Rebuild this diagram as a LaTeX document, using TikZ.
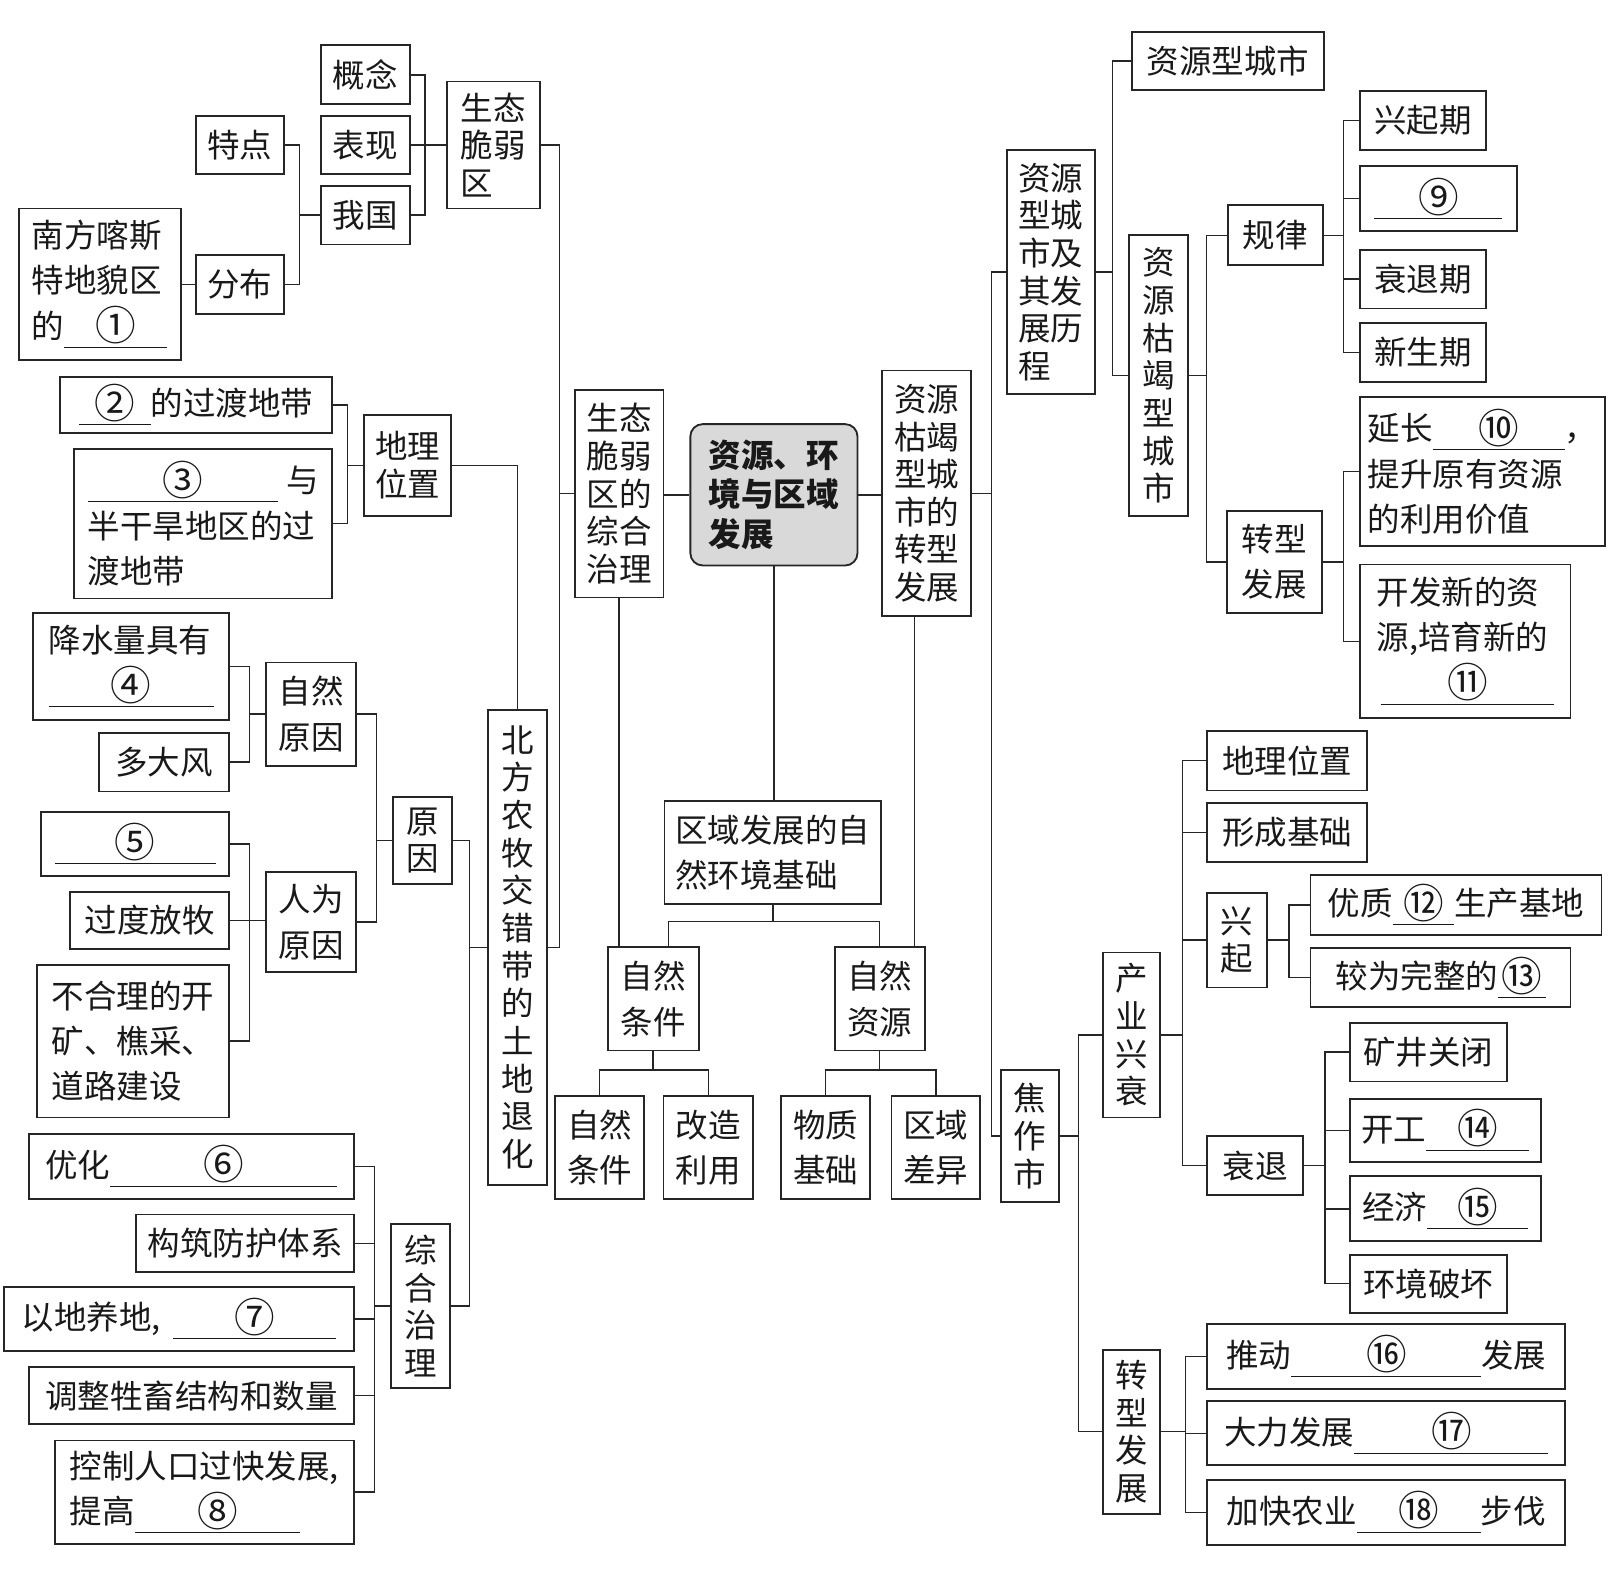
\documentclass[tikz,border=0pt]{standalone}
\usepackage{graphicx}
\usepackage{fontspec}
\setmainfont{Noto Sans CJK SC}
\newcommand\cn[1]{\raisebox{-0.08em}{\scalebox{1.25}{#1}}}
\newcommand\blk[2]{\underline{\makebox[#1]{\cn{#2}}}}
\newcommand\fsA{\fontsize{15.75pt}{22pt}\selectfont}
\newcommand\fsB{\fontsize{15.75pt}{18.25pt}\selectfont}
\newcommand\fsC{\fontsize{15.75pt}{19.25pt}\selectfont\bfseries}
\newcommand\bxn[7][]{\node[box,minimum width={(#5-#3)*0.5pt},minimum height={(#6-#4)*0.5pt},#1] (#2) at ({(#3+#5)/2},{(#4+#6)/2}) {#7};}
\tikzset{
  box/.style={draw=black!85,line width=0.9pt,inner sep=0pt,align=center,font=\fsA,text=black!90},
  vt/.style={font=\fsB},
  lf/.style={align=left},
  rootbox/.style={rounded corners=6pt,fill=black!15,font=\fsC,align=left},
  ln/.style={draw=black!85,line width=0.7pt}
}
\begin{document}
\begin{tikzpicture}[x=0.5pt,y=-0.5pt]
\fill[white] (0,0) rectangle (1568,1544);
\useasboundingbox (0,0) rectangle (1568,1544);
% ---------- left top
\bxn{gn}{311}{44}{397}{101}{概念}
\bxn{bx}{311}{112}{397}{169}{表现}
\bxn{wg}{311}{180}{397}{237}{我国}
\bxn[vt,lf]{st}{433}{79}{523}{202}{生态\\脆弱\\区}
\bxn{td}{190}{112}{275}{169}{特点}
\bxn{fb}{190}{247}{275}{304}{分布}
\bxn[lf]{nf}{18}{202}{175}{349}{南方喀斯\\特地貌区\\的\blk{50pt}{①}}
\bxn{t2}{58}{365}{322}{420}{\blk{35pt}{②}的过渡地带}
\bxn[lf]{t3}{72}{435}{322}{580}{\blk{92pt}{③}\hspace{4pt}与\\半干旱地区的过\\渡地带}
\bxn[vt]{dl}{353}{402}{437}{500}{地理\\位置}
\bxn[lf]{js}{32}{594}{222}{698}{降水量具有\\\blk{80pt}{④}}
\bxn{df}{96}{710}{222}{767}{多大风}
\bxn{zr}{258}{642}{345}{742}{自然\\原因}
\bxn{t5}{40}{787}{222}{849}{\blk{78pt}{⑤}}
\bxn{gd}{68}{864}{222}{920}{过度放牧}
\bxn[lf]{bh}{36}{935}{222}{1083}{不合理的开\\矿、樵采、\\道路建设}
\bxn{rw}{258}{845}{345}{942}{人为\\原因}
\bxn[vt]{yy}{381}{772}{438}{857}{原\\因}
\bxn[vt]{bf}{473}{688}{530}{1148}{北\\方\\农\\牧\\交\\错\\带\\的\\土\\地\\退\\化}
\bxn{t6}{28}{1099}{343}{1162}{优化\blk{110pt}{⑥}}
\bxn{gz}{132}{1177}{343}{1233}{构筑防护体系}
\bxn{t7}{4}{1247}{343}{1309}{以地养地,\hspace{6pt}\blk{79pt}{⑦}}
\bxn{tz}{28}{1325}{343}{1380}{调整牲畜结构和数量}
\bxn[lf]{t8}{53}{1396}{343}{1496}{控制人口过快发展,\\提高\blk{80pt}{⑧}}
\bxn[vt]{zh}{379}{1186}{436}{1345}{综\\合\\治\\理}
% ---------- centre
\bxn[rootbox]{root}{669}{411}{831}{548}{资源、环\\境与区域\\发展}
\bxn[vt,lf]{zl}{557}{378}{643}{579}{生态\\脆弱\\区的\\综合\\治理}
\bxn[vt,lf]{kj}{855}{359}{941}{597}{资源\\枯竭\\型城\\市的\\转型\\发展}
\bxn[lf]{qy}{644}{776}{854}{876}{区域发展的自\\然环境基础}
\bxn{zt}{589}{918}{677}{1018}{自然\\条件}
\bxn{zy}{809}{918}{896}{1018}{自然\\资源}
\bxn{zt2}{538}{1062}{624}{1162}{自然\\条件}
\bxn{gzly}{643}{1062}{730}{1162}{改造\\利用}
\bxn{wz}{757}{1062}{843}{1162}{物质\\基础}
\bxn{qc}{864}{1062}{950}{1162}{区域\\差异}
% ---------- right
\bxn[vt,lf]{zc}{976}{145}{1061}{382}{资源\\型城\\市及\\其发\\展历\\程}
\bxn[vt]{jz}{970}{1037}{1026}{1165}{焦\\作\\市}
\bxn{zx}{1097}{31}{1283}{87}{资源型城市}
\bxn[vt]{kc}{1094}{228}{1151}{500}{资\\源\\枯\\竭\\型\\城\\市}
\bxn{gl}{1190}{199}{1282}{257}{规律}
\bxn{zf}{1189}{495}{1281}{594}{转型\\发展}
\bxn{xq}{1318}{88}{1440}{145}{兴起期}
\bxn{t9}{1318}{161}{1470}{224}{\blk{62pt}{⑨}}
\bxn{sq}{1318}{242}{1440}{299}{衰退期}
\bxn{xs}{1318}{313}{1440}{370}{新生期}
\bxn[lf]{t10}{1318}{385}{1555}{529}{延长\blk{64pt}{⑩}，\\提升原有资源\\的利用价值}
\bxn[lf]{t11}{1318}{547}{1522}{696}{开发新的资\\源,培育新的\\\hspace{2pt}\blk{84pt}{⑪}}
\bxn[vt]{cy}{1069}{923}{1124}{1083}{产\\业\\兴\\衰}
\bxn[vt]{zx2}{1069}{1308}{1124}{1467}{转\\型\\发\\展}
\bxn{dl2}{1170}{708}{1325}{766}{地理位置}
\bxn{xc}{1170}{778}{1325}{835}{形成基础}
\bxn[vt]{xqi}{1170}{865}{1228}{957}{兴\\起}
\bxn{sh}{1170}{1101}{1263}{1158}{衰退}
\bxn{t12}{1270}{848}{1552}{906}{优质\blk{30pt}{⑫}生产基地}
\bxn{t13}{1270}{919}{1522}{976}{较为完整的\blk{23pt}{⑬}}
\bxn{kg}{1308}{991}{1460}{1048}{矿井关闭}
\bxn{t14}{1308}{1065}{1493}{1126}{开工\blk{50pt}{⑭}}
\bxn{t15}{1308}{1140}{1493}{1203}{经济\blk{49pt}{⑮}}
\bxn{hj}{1308}{1216}{1460}{1272}{环境破坏}
\bxn{t16}{1170}{1283}{1517}{1346}{推动\blk{92pt}{⑯}发展}
\bxn{t17}{1170}{1358}{1517}{1420}{大力发展\blk{94pt}{⑰}}
\bxn{t18}{1170}{1434}{1517}{1497}{加快农业\blk{60pt}{⑱}步伐}
% ---------- spine coordinates
\coordinate (s0) at (542,0);
\coordinate (s1) at (412,0);
\coordinate (s2) at (290,0);
\coordinate (s3) at (337,0);
\coordinate (s4) at (242,0);
\coordinate (s5) at (365,0);
\coordinate (s6) at (455,0);
\coordinate (s7) at (363,0);
\coordinate (s8) at (961,0);
\coordinate (s9) at (1078,0);
\coordinate (s10) at (1169,0);
\coordinate (s11) at (1302,0);
\coordinate (s13) at (1045,0);
\coordinate (s14) at (1146,0);
\coordinate (s15) at (1249,0);
\coordinate (s16) at (1284,0);
\coordinate (s17) at (1149,0);
% ---------- left connectors
\draw[ln] (gn.east) -- (gn.east -| s1) -- (wg.east -| s1) -- (wg.east);
\draw[ln] (bx.east) -- (bx.east -| s1);
\draw[ln] (st.west) -- (st.west -| s1);
\draw[ln] (td.east) -- (td.east -| s2) -- (fb.east -| s2) -- (fb.east);
\draw[ln] (wg.west) -- (wg.west -| s2);
\draw[ln] (nf.east) -- (nf.east -| fb.west);
\draw[ln] (st.east) -- (st.east -| s0) -- (bf.east -| s0) -- (bf.east);
\draw[ln] (zl.west) -- (zl.west -| s0);
\draw[ln] (t2.east) -- (t2.east -| s3) -- (t3.east -| s3) -- (t3.east);
\draw[ln] (dl.west) -- (dl.west -| s3);
\draw[ln] (dl.east) -| (bf.north);
\draw[ln] (js.east) -- (js.east -| s4) -- (df.east -| s4) -- (df.east);
\draw[ln] (zr.west) -- (zr.west -| s4);
\draw[ln] (t5.east) -- (t5.east -| s4) -- (bh.east -| s4) -- (bh.east);
\draw[ln] (gd.east) -- (gd.east -| rw.west);
\draw[ln] (zr.east) -- (zr.east -| s5) -- (rw.east -| s5) -- (rw.east);
\draw[ln] (yy.west) -- (yy.west -| s5);
\draw[ln] (yy.east) -- (yy.east -| s6) -- (zh.east -| s6) -- (zh.east);
\draw[ln] (bf.west) -- (bf.west -| s6);
\draw[ln] (t6.east) -- (t6.east -| s7) -- (t8.east -| s7) -- (t8.east);
\foreach \n in {gz,t7,tz} \draw[ln] (\n.east) -- (\n.east -| s7);
\draw[ln] (zh.west) -- (zh.west -| s7);
% ---------- centre connectors
\draw[ln] (root.west) -- (root.west -| zl.east);
\draw[ln] (root.east) -- (root.east -| kj.west);
\draw[ln] (root.south) -- (root.south |- qy.north);
\coordinate (qj) at (749,893);
\coordinate (ztt) at ([xshift=7.5pt]zt.north);
\draw[ln] (qy.south) -- (qj);
\draw[ln] (ztt) |- (qj) -| (zy.north);
\draw[ln] (zl.south) -- (zl.south |- zt.north);
\coordinate (kjb) at ([xshift=-6pt]kj.south);
\draw[ln] (kjb) -- (kjb |- zy.north);
\coordinate (zj) at (633,1037);
\draw[ln] (zt.south) -- (zt.south |- zj);
\draw[ln] (zt2.north) |- (zj) -| (gzly.north);
\coordinate (yj) at (852.5,1037);
\draw[ln] (zy.south) -- (zy.south |- yj);
\draw[ln] (wz.north) |- (yj) -| (qc.north);
% ---------- right connectors
\draw[ln] (kj.east) -- (kj.east -| s8);
\draw[ln] (zc.west) -- (zc.west -| s8) -- (jz.west -| s8) -- (jz.west);
\draw[ln] (zx.west) -- (zx.west -| s9) -- (kc.west -| s9) -- (kc.west);
\draw[ln] (zc.east) -- (zc.east -| s9);
\draw[ln] (gl.west) -- (gl.west -| s10) -- (zf.west -| s10) -- (zf.west);
\draw[ln] (kc.east) -- (kc.east -| s10);
\draw[ln] (xq.west) -- (xq.west -| s11) -- (xs.west -| s11) -- (xs.west);
\foreach \n in {t9,sq} \draw[ln] (\n.west) -- (\n.west -| s11);
\draw[ln] (gl.east) -- (gl.east -| s11);
\draw[ln] (t10.west) -- (t10.west -| s11) -- (t11.west -| s11) -- (t11.west);
\draw[ln] (zf.east) -- (zf.east -| s11);
\draw[ln] (cy.west) -- (cy.west -| s13) -- (zx2.west -| s13) -- (zx2.west);
\draw[ln] (jz.east) -- (jz.east -| s13);
\draw[ln] (dl2.west) -- (dl2.west -| s14) -- (sh.west -| s14) -- (sh.west);
\foreach \n in {xc,xqi} \draw[ln] (\n.west) -- (\n.west -| s14);
\draw[ln] (cy.east) -- (cy.east -| s14);
\draw[ln] (t12.west) -- (t12.west -| s15) -- (t13.west -| s15) -- (t13.west);
\draw[ln] (xqi.east) -- (xqi.east -| s15);
\draw[ln] (kg.west) -- (kg.west -| s16) -- (hj.west -| s16) -- (hj.west);
\foreach \n in {t14,t15} \draw[ln] (\n.west) -- (\n.west -| s16);
\draw[ln] (sh.east) -- (sh.east -| s16);
\draw[ln] (t16.west) -- (t16.west -| s17) -- (t18.west -| s17) -- (t18.west);
\draw[ln] (t17.west) -- (t17.west -| s17);
\draw[ln] (zx2.east) -- (zx2.east -| s17);
\end{tikzpicture}
\end{document}
